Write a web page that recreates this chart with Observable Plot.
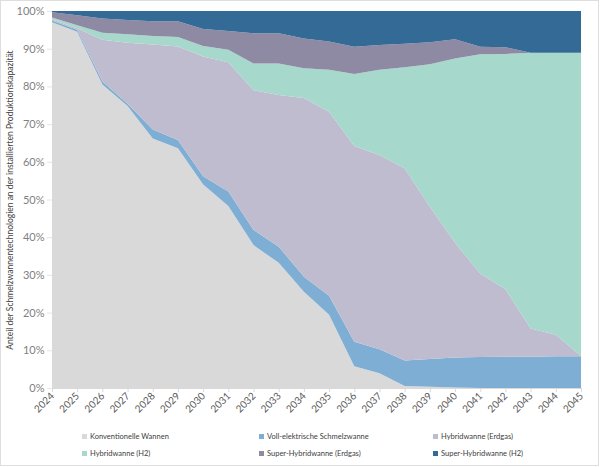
<!DOCTYPE html>
<html>
<head>
<meta charset="utf-8">
<script src="https://cdn.jsdelivr.net/npm/d3@7"></script>
<script src="https://cdn.jsdelivr.net/npm/@observablehq/plot@0.6"></script>
<style>
  body { margin: 0; background: #fff; font-family: Lato, "Open Sans", sans-serif; }
  #chart { position: relative; width: 600px; height: 467px; overflow: hidden; }
  #chart svg { position: absolute; left: 0; top: 0; }
  #frame { position: absolute; left: 0; top: 0; width: 597px; height: 464px; border: 1px solid #dedede; pointer-events: none; }
  .lg { position: absolute; font-size: 7.5px; color: #404040; white-space: nowrap; line-height: 9px; }
  .lg i { display: inline-block; width: 5px; height: 5px; margin-right: 3px; vertical-align: 0px; }
</style>
</head>
<body>
<div id="chart"><div id="frame"></div></div>
<script>
// Jahre der Betrachtung
const years = [2024, 2025, 2026, 2027, 2028, 2029, 2030, 2031, 2032, 2033, 2034,
               2035, 2036, 2037, 2038, 2039, 2040, 2041, 2042, 2043, 2044, 2045];

// Anteile je Technologie in % der installierten Kapazität
const konventionell = [97.0, 94.5, 80.5, 74.8, 66.2, 63.6, 54.0, 48.3, 37.9, 33.2, 25.5,
                       19.4, 5.8, 3.9, 0.5, 0.3, 0.1, 0, 0, 0, 0, 0];
const vollElektrisch = [0.5, 0.5, 0.8, 0.6, 2.4, 2.2, 2.2, 3.8, 4.0, 4.3, 4.0,
                        5.1, 6.5, 6.4, 6.8, 7.4, 8.0, 8.2, 8.3, 8.3, 8.4, 8.4];
const hybridErdgas = [0.3, 0.4, 11.1, 16.2, 22.5, 24.8, 31.7, 34.3, 37.1, 40.2, 47.4,
                      48.8, 51.9, 51.5, 51.0, 40.4, 30.4, 22.2, 17.9, 7.5, 5.7, 0.1];
const hybridH2 = [0.5, 0.8, 1.8, 2.2, 2.3, 2.5, 2.8, 3.3, 7.1, 8.4, 7.9,
                  11.1, 19.1, 22.6, 26.8, 37.8, 48.9, 58.1, 62.4, 73.1, 74.8, 80.4];
const superHybridErdgas = [1.4, 2.7, 3.8, 3.8, 3.9, 4.2, 4.5, 5.0, 8.0, 8.0, 7.9,
                           7.5, 7.2, 6.6, 6.2, 5.8, 5.1, 2.0, 1.8, 0, 0, 0];
const superHybridH2 = [0.3, 1.1, 2.0, 2.4, 2.7, 2.7, 4.8, 5.3, 5.9, 5.9, 7.3,
                       8.1, 9.5, 9.0, 8.7, 8.3, 7.5, 9.5, 9.6, 11.1, 11.1, 11.1];

const seriesNames = [
  "Konventionelle Wannen",
  "Voll-elektrische Schmelzwanne",
  "Hybridwanne (Erdgas)",
  "Hybridwanne (H2)",
  "Super-Hybridwanne (Erdgas)",
  "Super-Hybridwanne (H2)"
];
const seriesValues = [konventionell, vollElektrisch, hybridErdgas, hybridH2, superHybridErdgas, superHybridH2];
const seriesColors = ["#d9d9d9", "#7eaed4", "#bfbccf", "#a6d8cb", "#8f8aa3", "#346a96"];

const yTicks = [0, 10, 20, 30, 40, 50, 60, 70, 80, 90, 100];
const yTitle = "Anteil der Schmelzwannentechnologien an der installierten Produktionskapazität";

// Long-Format-Tabelle für das gestapelte Flächendiagramm
const rows = [];
seriesNames.forEach((name, s) => {
  years.forEach((year, i) => rows.push({ year, series: name, value: seriesValues[s][i] }));
});

const chart = Plot.plot({
  width: 600,
  height: 425,
  marginLeft: 52,
  marginRight: 19,
  marginTop: 11,
  marginBottom: 37,
  style: { fontFamily: "Lato, 'Open Sans', sans-serif", background: "transparent" },
  x: { domain: [2024, 2045] },
  y: { domain: [0, 100] },
  color: { domain: seriesNames, range: seriesColors },
  marks: [
    Plot.areaY(rows, Plot.stackY({
      x: "year", y: "value", fill: "series", order: seriesNames
    })),
    Plot.ruleY([0], { stroke: "#d9d9d9" }),
    Plot.axisX({
      ticks: years, tickFormat: d => String(d), tickRotate: -45,
      tickSize: 4, tickPadding: 2, stroke: "#d9d9d9", fill: "#595959",
      fontSize: 10, label: null
    }),
    Plot.axisY({
      ticks: yTicks, tickFormat: d => d + "%", tickSize: 5, tickPadding: 3,
      stroke: "#e6e6e6", fill: "#7f7f7f", fontSize: 11, label: null
    }),
    Plot.text([yTitle], {
      frameAnchor: "left", rotate: -90, dx: -42, fontSize: 8.5, fill: "#404040", textAnchor: "middle"
    })
  ]
});
document.getElementById("chart").appendChild(chart);

// Legende in zwei Zeilen à drei Einträge
const legendX = [82, 259, 433];
const legendY = [432, 449];
seriesNames.forEach((name, i) => {
  const d = document.createElement("div");
  d.className = "lg";
  d.style.left = legendX[i % 3] + "px";
  d.style.top = legendY[Math.floor(i / 3)] + "px";
  d.innerHTML = `<i style="background:${seriesColors[i]}"></i>${name}`;
  document.getElementById("chart").appendChild(d);
});
</script>
</body>
</html>
